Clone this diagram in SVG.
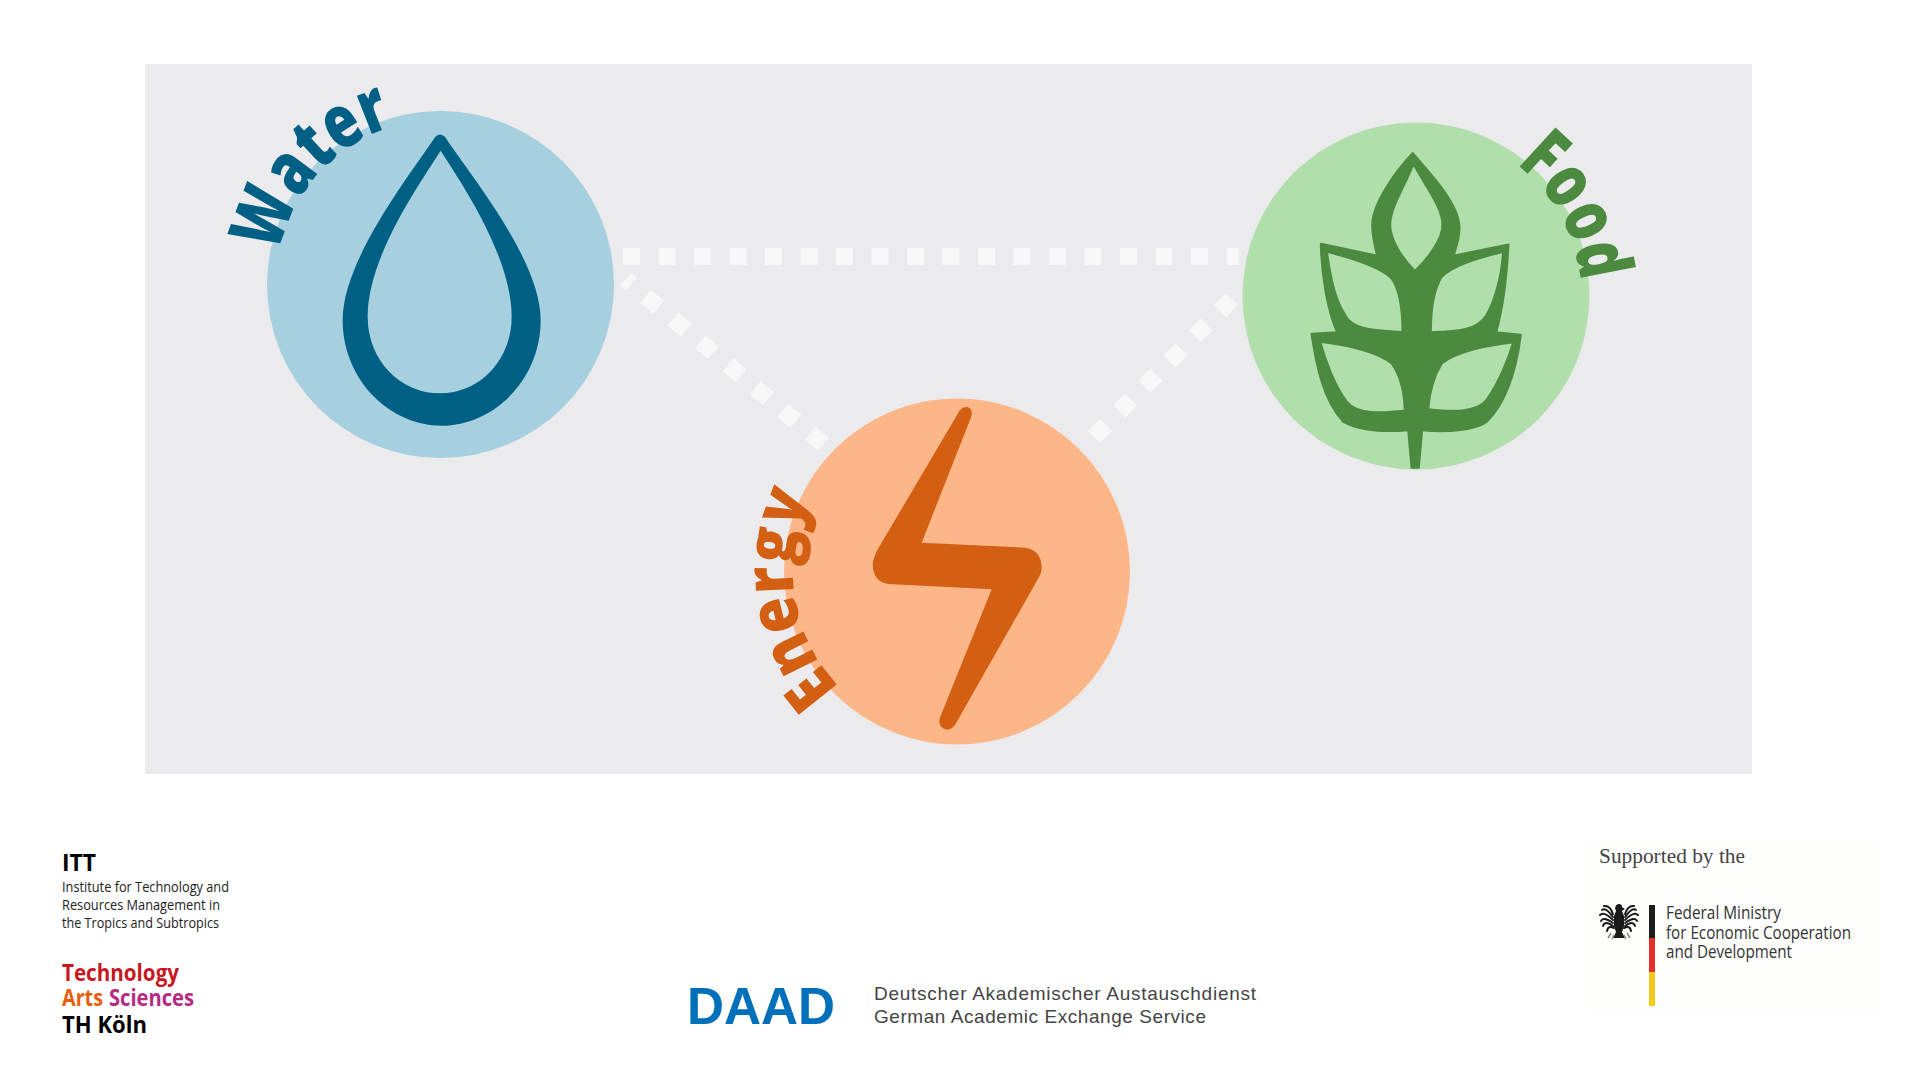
<svg xmlns="http://www.w3.org/2000/svg" xmlns:xlink="http://www.w3.org/1999/xlink" width="1920" height="1080" viewBox="0 0 1920 1080">
<style>
.curve{font-family:"Open Sans","Liberation Sans",sans-serif;font-weight:800;font-size:74px}
.dots{fill:none;stroke:#f8f8f9;stroke-width:17}
.sm{font-family:"Open Sans","Noto Sans",sans-serif}
.b{font-weight:700}
</style>
<defs>
<path id="arcW" d="M279,254 A165,165 0 0 1 441,119 A165,165 0 0 1 560,169"/>
<path id="arcE" d="M840,687.5 A167,167 0 0 1 793,571.5 A167,167 0 0 1 960,404.5"/>
<path id="arcF" d="M1516,164 A165,165 0 0 1 1581,296 A165,165 0 0 1 1516,428"/>
</defs>
<rect width="1920" height="1080" fill="#fff"/>
<rect x="145" y="64" width="1607" height="710" fill="#ebebed"/>
<g id="connectors">
<path class="dots" stroke-dasharray="17 18.5" d="M623,256.5H1239"/>
<path class="dots" stroke-dasharray="17 18.7" stroke-dashoffset="9.5" d="M625.5,279.5L823.5,444.4"/>
<path class="dots" stroke-dasharray="17 18.6" d="M1094,437L1233,298"/>
</g>
<g id="node-water">
<circle cx="440.5" cy="284.5" r="173.5" fill="#a6cfdf"/>
<path transform="translate(200,60) scale(.33333)" fill="#005f84" fill-rule="evenodd" d="M705,232Q720,215 736,232C810,345 1022,600 1022,780C1022,960 880,1097 725,1097C570,1097 428,960 428,780C428,600 630,345 705,232ZM722,272C660,370 503,590 503,770C503,900 600,1000 720,1000C840,1000 935,900 935,770C935,590 785,370 722,272Z"/>
<text class="curve" fill="#005f84"><textPath xlink:href="#arcW" href="#arcW" textLength="180" lengthAdjust="spacingAndGlyphs">Water</textPath></text>
</g>
<g id="node-energy">
<circle cx="957" cy="571.5" r="173" fill="#fdb688"/>
<path transform="translate(740,380) scale(.33333)" fill="#d25f12" d="M660,90Q675,75 690,85Q700,95 692,115L545,488L855,503Q905,510 905,565Q905,580 895,595L645,1035Q625,1060 603,1040Q593,1025 603,1005L755,628L445,612Q400,605 398,555Q400,530 415,505Z"/>
<text class="curve" style="font-size:68px" fill="#d25f12"><textPath xlink:href="#arcE" href="#arcE" textLength="205" lengthAdjust="spacingAndGlyphs">Energy</textPath></text>
</g>
<g id="node-food">
<circle cx="1416" cy="296" r="173.5" fill="#b0dfab"/>
<path transform="translate(1220,100) scale(.33333)" fill="#4c8a3f" stroke="#4c8a3f" stroke-width="7" stroke-linejoin="round" fill-rule="evenodd" d="M578,160C620,210 720,310 718,385C718,420 705,450 700,468L865,434C860,530 850,620 828,697L902,705C890,800 865,900 800,965C760,992 680,997 606,990L596,1103L575,1103L565,990C490,997 420,992 370,965C310,900 290,800 275,702L352,697C325,640 305,530 303,432L472,468C465,440 457,410 457,375C457,310 530,210 578,160ZM580,190C610,250 668,320 668,375C668,420 620,480 585,513C550,480 510,420 510,375C510,320 560,250 580,190ZM320,455C400,475 480,500 515,535C540,570 548,640 548,697C480,690 400,695 375,645C340,590 330,520 320,455ZM850,455C770,475 700,495 665,530C640,570 632,640 632,697C700,695 770,695 800,645C830,590 845,520 850,455ZM300,725C380,735 470,755 515,790C545,830 553,880 555,932C490,940 410,945 380,905C345,860 315,780 300,725ZM880,727C800,735 710,755 665,790C640,830 628,880 624,928C690,935 770,940 800,900C835,850 865,780 880,727Z"/>
<text class="curve" fill="#4c8a3f"><textPath xlink:href="#arcF" href="#arcF" textLength="138" lengthAdjust="spacingAndGlyphs">Food</textPath></text>
</g>
<g id="logo-itt" class="sm">
<text class="b" x="62" y="871" font-size="24" textLength="34" lengthAdjust="spacingAndGlyphs" fill="#000">ITT</text>
<text x="62" y="892" font-size="15" textLength="167" lengthAdjust="spacingAndGlyphs" fill="#222">Institute for Technology and</text>
<text x="62" y="910" font-size="15" textLength="158" lengthAdjust="spacingAndGlyphs" fill="#222">Resources Management in</text>
<text x="62" y="928" font-size="15" textLength="157" lengthAdjust="spacingAndGlyphs" fill="#222">the Tropics and Subtropics</text>
<text class="b" x="62" y="981" font-size="23" textLength="117" lengthAdjust="spacingAndGlyphs" fill="#c8171f">Technology</text>
<text class="b" x="62" y="1006" font-size="23" textLength="41" lengthAdjust="spacingAndGlyphs" fill="#ea5b0c">Arts</text>
<text class="b" x="109" y="1006" font-size="23" textLength="85" lengthAdjust="spacingAndGlyphs" fill="#b72a83">Sciences</text>
<text class="b" x="62" y="1033" font-size="23" textLength="85" lengthAdjust="spacingAndGlyphs" fill="#000">TH Köln</text>
</g>
<g id="logo-daad" font-family="'Liberation Sans',Arial,sans-serif">
<text x="687" y="1024" font-size="51" font-weight="700" textLength="148" lengthAdjust="spacingAndGlyphs" fill="#0070ba">DAAD</text>
<text x="874" y="1000" font-size="19" textLength="382" fill="#444">Deutscher Akademischer Austauschdienst</text>
<text x="874" y="1023" font-size="19" textLength="332" fill="#444">German Academic Exchange Service</text>
</g>
<g id="logo-bmz">
<rect x="1585" y="842" width="295" height="168" fill="#fefefd"/>
<text x="1599" y="863" font-family="'Liberation Serif',serif" font-size="20.5" textLength="146" lengthAdjust="spacingAndGlyphs" fill="#444">Supported by the</text>
<rect x="1649" y="905" width="6" height="33" fill="#1d1d1b"/>
<rect x="1649" y="938" width="6" height="34" fill="#e53027"/>
<rect x="1649" y="972" width="6" height="34" fill="#f2cb1d"/>
<g class="sm" font-size="18" fill="#333">
<text x="1666" y="919" textLength="115" lengthAdjust="spacingAndGlyphs">Federal Ministry</text>
<text x="1666" y="939" textLength="185" lengthAdjust="spacingAndGlyphs">for Economic Cooperation</text>
<text x="1666" y="958" textLength="126" lengthAdjust="spacingAndGlyphs">and Development</text>
</g>
<g id="eagle">
<path fill="#1a1a1a" d="M1619,904Q1622,904 1622,907L1625,909L1622,911L1624,916L1624,926L1622,932L1625,938H1613L1616,932L1614,926L1614,916L1616,911L1615,908Q1616,904 1619,904Z"/>
<path fill="none" stroke="#1a1a1a" stroke-width="2" stroke-linecap="round" d="M1613,914Q1610,905 1604,906M1613,917Q1606,907 1602,910M1613,920Q1604,911 1600,915M1613,923Q1603,916 1601,921M1613,926Q1605,920 1603,926M1614,928Q1608,925 1607,931M1625,914Q1628,905 1634,906M1625,917Q1632,907 1636,910M1625,920Q1634,911 1638,915M1625,923Q1635,916 1637,921M1625,926Q1633,920 1635,926M1624,928Q1630,925 1631,931"/>
<path fill="none" stroke="#888" stroke-width="1.5" d="M1611,933L1608,938M1614,935L1612,939M1627,933L1630,938M1624,935L1626,939"/>
</g>
</g>
</svg>
